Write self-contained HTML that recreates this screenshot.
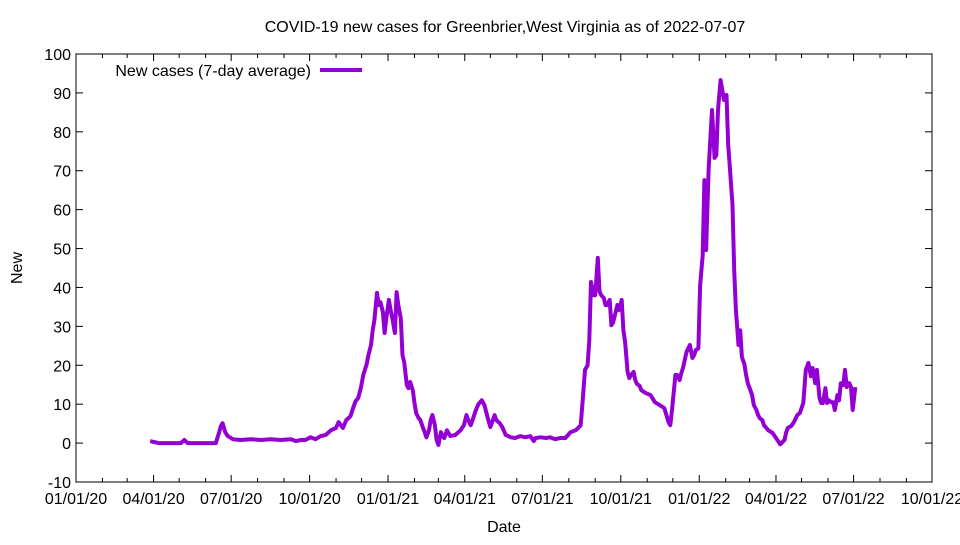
<!DOCTYPE html>
<html><head><meta charset="utf-8"><style>
body{margin:0;background:#fff;}
svg text{font-family:"Liberation Sans",Arial,sans-serif;font-size:16px;fill:#000;}
</style></head><body>
<svg id="chart" width="960" height="540" xmlns="http://www.w3.org/2000/svg">
<text x="505" y="32" text-anchor="middle">COVID-19 new cases for Greenbrier,West Virginia as of 2022-07-07</text>
<rect x="76" y="54" width="856" height="428" fill="none" stroke="#000" stroke-width="1"/>
<g id="axes"></g>
<text x="504" y="532" text-anchor="middle">Date</text>
<text transform="translate(22,268) rotate(-90)" text-anchor="middle">New</text>
<g>
<text x="311" y="76" text-anchor="end">New cases (7-day average)</text>
<line x1="320" y1="70" x2="362" y2="70" stroke="#9400d3" stroke-width="4"/>
</g>
<path id="series" fill="none" stroke="#9400d3" stroke-width="4" stroke-linejoin="round"/>
</svg>
<script>
// days since 2020-01-01
const days=[87,91,97,123,127,131,146,164,168,170,172,175,178,184,193,205,217,228,240,252,258,264,269,275,281,287,293,299,305,308,313,317,322,325,328,331,334,337,341,343,346,348,350,353,355,357,360,362,364,367,369,371,374,376,378,381,383,385,388,390,392,395,397,399,402,404,407,409,411,414,416,418,421,423,425,428,430,432,435,439,445,451,455,458,460,463,465,469,472,476,479,483,486,489,491,493,497,500,504,510,515,521,527,533,537,539,545,551,556,562,568,574,580,586,589,592,594,597,600,602,604,607,609,612,614,616,619,621,623,626,628,630,633,635,637,640,642,644,647,649,651,654,656,658,661,663,668,674,679,685,690,695,697,699,703,705,708,710,712,716,720,723,725,727,730,732,735,737,739,742,744,746,749,751,753,756,758,760,763,765,767,770,772,774,777,779,781,784,786,788,791,793,795,798,800,802,805,807,812,817,821,826,831,833,835,839,842,846,849,853,856,859,862,864,867,869,872,874,876,879,881,883,886,888,890,893,895,897,900,902,904,907,909,911,914,916];
const values=[0.5,0.3,0,0,0.8,0,0,0,2.8,4.4,5.1,2.8,1.8,1.0,0.8,1.0,0.8,1.0,0.8,1.0,0.5,0.8,0.8,1.5,1.0,1.8,2.1,3.3,3.9,5.4,3.9,5.9,6.9,9.0,10.8,11.6,14.1,17.5,20.3,22.6,25.2,29,31.6,38.6,35.5,36.2,33.7,28.3,32.1,36.8,34.2,32.1,28.3,38.8,35.5,32.1,22.6,20.8,14.9,14.1,15.7,13.6,10.3,7.7,6.4,5.9,3.9,2.8,1.5,3.3,5.9,7.2,4.6,0.8,-0.5,2.8,1.8,1.3,3.3,1.8,2.1,3.3,4.6,7.2,5.9,4.6,5.9,8.5,10.0,11.0,9.8,6.4,4.1,5.9,7.2,5.9,5.1,4.1,2.1,1.5,1.3,1.8,1.5,1.8,0.5,1.3,1.5,1.3,1.5,1.0,1.3,1.3,2.8,3.3,3.9,4.6,10.0,18.8,20,26.5,41.4,38,38,47.6,39,38,37.3,35.5,35.5,36.8,30.3,31,33.7,35.5,34.2,36.8,29,26,18.3,16.7,17.5,18.3,16.2,15.2,14.7,13.6,12.9,12.3,10.5,9.7,9.0,5.4,4.6,8.5,17.5,17.5,16.2,18.0,19.3,23.4,25.2,21.9,22.6,23.9,24.4,40.4,48.3,67.6,49.6,70.2,77.9,85.6,73.3,74,85.6,93.3,90.7,88.2,89.5,76.6,70.7,61.2,44.5,34.2,25.2,29,22.1,20.3,17.5,15.4,13.6,12.3,9.8,8.5,7.2,6.4,5.9,4.6,3.3,2.6,1.3,-0.3,0.8,2.8,3.9,4.4,5.4,7.2,7.7,10.3,18.8,20.6,17.2,19.3,15.4,18.8,11.6,10.3,10.3,14.1,10.3,11.0,10.5,10.5,8.5,12.3,11.0,15.4,14.9,18.8,14.4,15.4,14.4,8.5,14.4];
const xTicks=["01/01/20","04/01/20","07/01/20","10/01/20","01/01/21","04/01/21","07/01/21","10/01/21","01/01/22","04/01/22","07/01/22","10/01/22"];
const yTicks=[-10,0,10,20,30,40,50,60,70,80,90,100];
const X0=76,X1=932,Y0=482,Y1=54;
const t0=Date.UTC(2020,0,1),tEnd=Date.UTC(2022,9,1);
const totalDays=(tEnd-t0)/864e5;
function xs(d){return X0+d/totalDays*(X1-X0);}
function ys(v){return Y0-(v+10)/110*(Y0-Y1);}
const NS="http://www.w3.org/2000/svg";
const g=document.getElementById('axes');
function mk(tag,attrs){const e=document.createElementNS(NS,tag);for(const k in attrs)e.setAttribute(k,attrs[k]);g.appendChild(e);return e;}
yTicks.forEach(v=>{const y=ys(v);
 const l=mk('line',{x1:X0,x2:X0+7,y1:y,y2:y,stroke:'#000'});
 
 
 const r=mk('line',{x1:X1-7,x2:X1,y1:y,y2:y,stroke:'#000'});
 
 
 const t=mk('text',{x:X0-5,y:y+6,'text-anchor':'end'});t.textContent=v;
 
 
});
for(let m=0;m<=33;m++){const d=(Date.UTC(2020,m,1)-t0)/864e5;const x=xs(d);const major=m%3===0;const len=major?7:4;
 const a=mk('line',{x1:x,x2:x,y1:Y0,y2:Y0-len,stroke:'#000'});
 
 
 const b=mk('line',{x1:x,x2:x,y1:Y1,y2:Y1+len,stroke:'#000'});
 
 
}
xTicks.forEach((s,i)=>{const d=(Date.UTC(2020,i*3,1)-t0)/864e5;
 const t=mk('text',{x:xs(d),y:Y0+22,'text-anchor':'middle'});t.textContent=s;
 
 
});
let dp='';days.forEach((d,i)=>{dp+=(i?'L':'M')+xs(d).toFixed(1)+','+ys(values[i]).toFixed(1);});
document.getElementById('series').setAttribute('d',dp);
</script>
</body></html>
